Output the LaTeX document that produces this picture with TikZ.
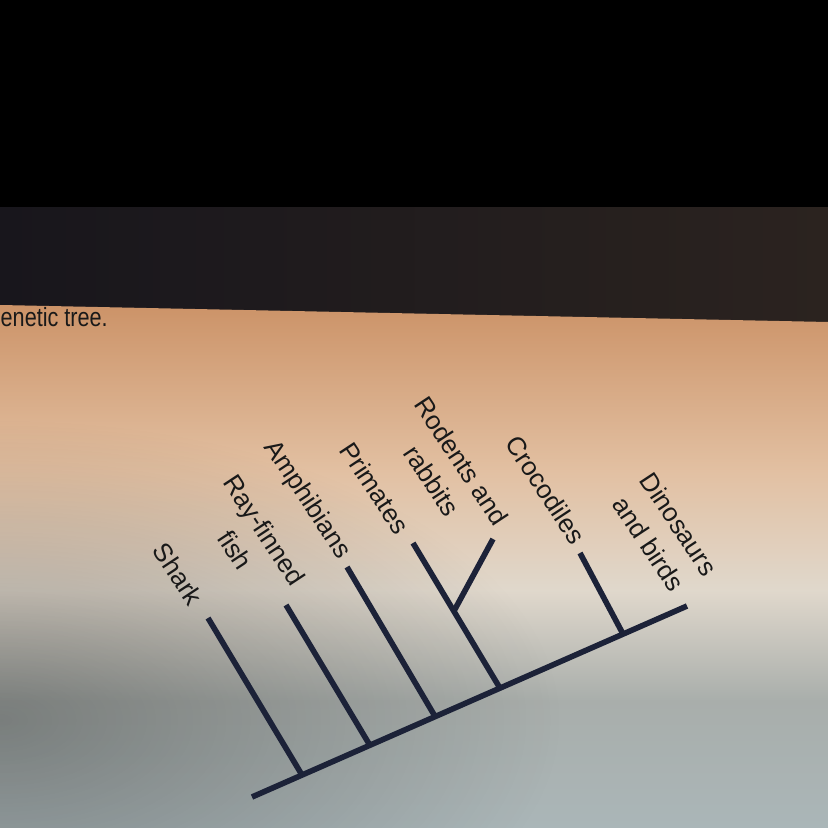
\documentclass[tikz,border=0pt]{standalone}
\usepackage{fontspec}
\setmainfont{Liberation Sans}
\usetikzlibrary{calc,fadings}

\definecolor{treeblue}{HTML}{1C2238}
\definecolor{bandnavy}{HTML}{0F1120}
\definecolor{bandleft}{HTML}{18161C}
\definecolor{bandright}{HTML}{2B231F}
\definecolor{scrtop}{HTML}{CC9368}
\definecolor{scrpeach}{HTML}{E2C0A2}
\definecolor{scrpale}{HTML}{E0D8CC}
\definecolor{scrgray}{HTML}{A9AEAB}
\definecolor{scrbot}{HTML}{AAB6B8}

\tikzfading[name=softspot, inner color=transparent!0, outer color=transparent!100]

\begin{document}
\begin{tikzpicture}[x=0.01cm,y=-0.01cm,
  taxon/.style={rotate=-56.5,align=center,text=black!90,font=\fontsize{7.4}{10.2}\selectfont},
  branch/.style={draw=treeblue,line width=1.6pt}
]
\useasboundingbox (0,0) rectangle (828,828);

% monitor frame and screen
\fill[black] (0,0) rectangle (828,212);
\shade[left color=bandleft,middle color=bandnavy,right color=bandright] (0,208) rectangle (828,326);
\shade[top color=scrtop,bottom color=scrpeach] (0,305) -- (828,322) -- (828,471) -- (0,471) -- cycle;
\shade[top color=scrpeach,bottom color=scrpale] (0,470) rectangle (828,591);
\shade[top color=scrpale,bottom color=scrgray] (0,590) rectangle (828,701);
\shade[top color=scrgray,bottom color=scrbot] (0,700) rectangle (828,828);
\begin{scope}
\clip (0,326) rectangle (828,828);
\fill[black,opacity=0.28,path fading=softspot] (0,720) ellipse (560 and 300);
\end{scope}

\node[anchor=base west,inner sep=0,text=black!90,font=\fontsize{7.5}{9}\selectfont] (caption) at (0,327) {\scalebox{0.82}[1]{enetic tree.}};

% tree
\coordinate (root) at (252,797);
\coordinate (dinotip) at (687,606);
\coordinate (sharkjn) at ($(root)!0.115!(dinotip)$);
\coordinate (rayjn) at ($(root)!0.271!(dinotip)$);
\coordinate (amphjn) at ($(root)!0.421!(dinotip)$);
\coordinate (primjn) at ($(root)!0.570!(dinotip)$);
\coordinate (crocjn) at ($(root)!0.853!(dinotip)$);
\coordinate (sharktip) at (208,618);
\coordinate (raytip) at (286,605);
\coordinate (amphtip) at (347,567);
\coordinate (primtip) at (413,543);
\coordinate (rodjn) at ($(primjn)!0.53!(primtip)$);
\coordinate (rodtip) at (493,539);
\coordinate (croctip) at (580,553);

\draw[branch] (root) -- (dinotip);
\draw[branch] (sharkjn) -- (sharktip);
\draw[branch] (rayjn) -- (raytip);
\draw[branch] (amphjn) -- (amphtip);
\draw[branch] (primjn) -- (primtip);
\draw[branch] (rodjn) -- (rodtip);
\draw[branch] (crocjn) -- (croctip);

% taxa
\node[taxon] (shark) at (178,574) {Shark};
\node[taxon] (ray) at (250,540) {Ray-finned\\fish};
\node[taxon] (amph) at (307,500) {Amphibians};
\node[taxon] (prim) at (375,488) {Primates};
\node[taxon] (rod) at (447,471) {Rodents and\\rabbits};
\node[taxon] (croc) at (546,490) {Crocodiles};
\node[taxon] (dino) at (664,534) {Dinosaurs\\and birds};
\end{tikzpicture}
\end{document}
